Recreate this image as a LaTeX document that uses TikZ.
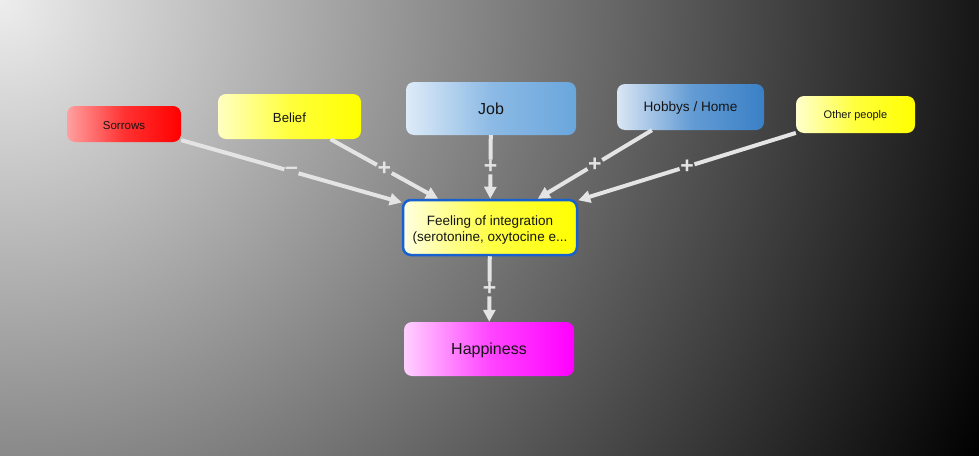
\documentclass[tikz,border=0pt]{standalone}
\usepackage{fontspec}
\setmainfont{Liberation Sans}
\usetikzlibrary{arrows.meta}
\definecolor{edgec}{HTML}{E4E4E4}
\definecolor{txt}{HTML}{151515}
\pgfdeclareradialshading{bgshade}{\pgfpoint{0bp}{0bp}}{rgb(0bp)=(0.93,0.93,0.93); rgb(25bp)=(0,0,0); rgb(50bp)=(0,0,0)}
\newcommand{\fs}[1]{\fontsize{#1}{#1}\selectfont}
\newcommand{\dn}[2]{\raisebox{-#1}[\height][\depth]{#2}}
\tikzset{
  box/.style={rounded corners=8pt, inner sep=0pt, align=center, text=txt},
  edge/.style={draw=edgec, line width=4pt},
  arr/.style={edge, -{Triangle[length=12pt,width=12pt]}},
  lab/.style={text=edgec, font=\bfseries\fs{23}, inner sep=0.5pt},
}
\begin{document}
\begin{tikzpicture}[x=1pt,y=-1pt]
\useasboundingbox (0,0) rectangle (979,455);
\begin{scope}
  \clip (0,0) rectangle (979,455);
  \shade[shading=bgshade] (0,0) circle (1080);
\end{scope}

\node[box, minimum width=114pt, minimum height=36pt, left color={rgb,255:red,255;green,160;blue,160}, right color=red, middle color={rgb,255:red,255;green,50;blue,50}, font=\fs{11.5}] (sor) at (124,124) {\dn{1.5pt}{Sorrows}};
\node[box, minimum width=143pt, minimum height=45pt, left color={rgb,255:red,255;green,255;blue,195}, right color=yellow, middle color={rgb,255:red,255;green,255;blue,60}, font=\fs{13.2}] (bel) at (289.5,116.5) {\dn{1pt}{Belief}};
\node[box, minimum width=170pt, minimum height=53pt, left color={rgb,255:red,222;green,235;blue,248}, right color={rgb,255:red,106;green,166;blue,220}, middle color={rgb,255:red,140;green,186;blue,229}, font=\fs{16}] (job) at (491,108.5) {Job};
\node[box, minimum width=147pt, minimum height=46pt, left color={rgb,255:red,218;green,230;blue,244}, right color={rgb,255:red,58;green,128;blue,198}, middle color={rgb,255:red,100;green,156;blue,212}, font=\fs{13.6}] (hob) at (690.5,107) {\dn{1pt}{Hobbys / Home}};
\node[box, minimum width=119pt, minimum height=37pt, left color={rgb,255:red,255;green,255;blue,205}, right color=yellow, middle color={rgb,255:red,255;green,255;blue,60}, font=\fs{11}] (oth) at (855.5,114.5) {\dn{1.5pt}{Other people}};
\node[box, minimum width=174pt, minimum height=55pt, draw={rgb,255:red,22;green,96;blue,208}, line width=2.5pt, left color={rgb,255:red,255;green,255;blue,225}, right color=yellow, middle color={rgb,255:red,255;green,255;blue,70}, font=\fs{13.5}] (fee) at (490,227.5) {\dn{3pt}{\begin{tabular}{@{}c@{}}Feeling of integration\\[1.5pt](serotonine, oxytocine e...\end{tabular}}};
\node[box, minimum width=170pt, minimum height=54pt, left color={rgb,255:red,255;green,208;blue,255}, right color=magenta, middle color={rgb,255:red,255;green,70;blue,255}, font=\fs{16}] (hap) at (489,349) {\dn{1.5pt}{Happiness}};

\path (sor) -- node[lab] (l1) {–} (fee);
\draw[edge] (sor) -- (l1); \draw[arr] (l1) -- (fee);
\path (bel) -- node[lab] (l2) {+} (fee);
\draw[edge] (bel) -- (l2); \draw[arr] (l2) -- (fee);
\path (job) -- node[lab] (l3) {+} (fee);
\draw[edge] (job) -- (l3); \draw[arr] (l3) -- (fee);
\path (hob) -- node[lab] (l4) {+} (fee);
\draw[edge] (hob) -- (l4); \draw[arr] (l4) -- (fee);
\path (oth) -- node[lab] (l5) {+} (fee);
\draw[edge] (oth) -- (l5); \draw[arr] (l5) -- (fee);
\path (fee) -- node[lab] (l6) {+} (hap);
\draw[edge] (fee) -- (l6); \draw[arr] (l6) -- (hap);
\end{tikzpicture}
\end{document}
